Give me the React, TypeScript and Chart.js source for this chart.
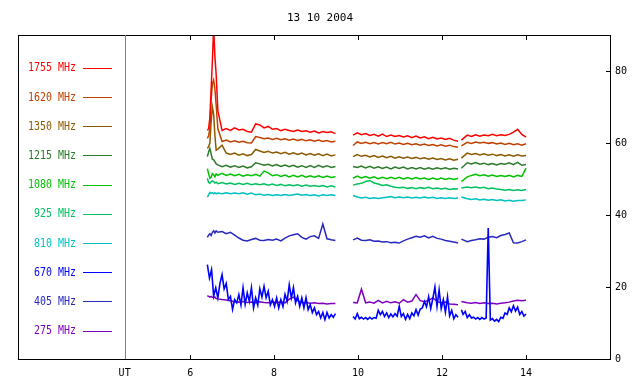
import { useEffect, useRef } from 'react';
import { Chart, registerables } from 'chart.js';

Chart.register(...registerables);

const TITLE = '13 10 2004';
const AXIS_LABEL = 'UT';
const UT_POS = 4.44;
const X_MIN = 1.9;
const X_MAX = 16;
const Y_MIN = 0;
const Y_MAX = 90;
const xTickValues = [6, 8, 10, 12, 14];
const yTickValues = [0, 20, 40, 60, 80];

const seriesNames = ['1755 MHz', '1620 MHz', '1350 MHz', '1215 MHz', '1080 MHz', '925 MHz', '810 MHz', '670 MHz', '405 MHz', '275 MHz'];
const seriesColors = ['#ff0000', '#c04000', '#8b5a00', '#2a7a2a', '#00c000', '#00c060', '#00c0c0', '#0000ff', '#2828c0', '#8000c0'];

// shared time grid (UT hours); gaps carry null values
const times = [
  6.41, 6.44, 6.47, 6.50, 6.53, 6.56, 6.59, 6.62, 6.66, 6.76, 6.86, 6.96, 7.06, 7.16, 7.26, 7.36, 7.46, 7.56, 7.66, 7.76,
  7.86, 7.96, 8.06, 8.16, 8.26, 8.36, 8.46, 8.56, 8.66, 8.76, 8.86, 8.96, 9.06, 9.16, 9.26, 9.36, 9.46,
  9.66,
  9.88, 9.98, 10.08, 10.18, 10.28, 10.38, 10.48, 10.58, 10.68, 10.78, 10.88, 10.98, 11.08, 11.18, 11.28, 11.38, 11.48,
  11.58, 11.68, 11.78, 11.88, 11.98, 12.08, 12.18, 12.28, 12.38,
  12.42,
  12.46, 12.6, 12.7, 12.8, 12.9, 13.0, 13.1, 13.2, 13.3, 13.4, 13.5, 13.6, 13.7, 13.8, 13.9, 14.0,
];

const f1755 = [
  63.5, 64, 67, 75, 83, 92, 84, 79, 69, 63.5, 64, 63.5, 64.2, 63.6, 63.8, 63.2, 63, 65.3, 65, 64.2, 64.6, 63.8, 64, 63.4, 63.8, 63.5, 63.2, 63.6, 63.2, 63.4, 63, 63.3, 62.8, 63.2, 62.9, 63.1, 62.6,
  null,
  62.2, 62.8, 62.3, 62.6, 62.1, 62.4, 61.9, 62.5, 61.8, 62.2, 61.8, 62.1, 61.7, 62, 61.5, 61.9, 61.4, 61.7, 61.2, 61.6, 61.1, 61.4, 61, 61.3, 60.8, 60.5,
  null,
  60.8, 62.2, 61.8, 62.3, 61.9, 62.2, 62, 62.4, 62, 62.3, 62.1, 62.4, 63, 63.8, 62.4, 61.6,
];
const f1620 = [
  61.3, 62, 64, 72, 76.5, 77.5, 75, 70.5, 64, 60.4, 60.8, 60.3, 60.6, 60.2, 60.5, 60.1, 60, 61.8, 61.5, 61.2, 61.4, 61, 61.3, 60.9, 61.2, 60.8, 61.1, 60.7, 61, 60.6, 60.9, 60.5, 60.8, 60.4, 60.7, 60.3, 60.5,
  null,
  59.3, 60.3, 59.9, 60.2, 59.8, 60.1, 59.7, 60.1, 59.8, 60.2, 59.7, 60, 59.6, 59.9, 59.5, 59.8, 59.4, 59.7, 59.3, 59.6, 59.2, 59.5, 59.1, 59.4, 59, 58.8,
  null,
  59.2, 60.2, 59.9, 60.3, 60, 60.2, 59.9, 60.1, 59.7, 60, 59.6, 59.9, 59.5, 59.8, 59.4, 59.8,
];
const f1350 = [
  58.5, 59, 60, 66, 70, 68, 62, 58, 58.3, 59.4, 57.2, 56.8, 57.2, 56.6, 57, 56.5, 56.8, 58.2, 57.8, 57.4, 57.7, 57.2, 57.5, 57, 57.4, 56.9, 57.3, 56.8, 57.2, 56.7, 57.1, 56.6, 57, 56.5, 56.9, 56.4, 56.7,
  null,
  56.2, 56.8, 56.3, 56.6, 56.1, 56.5, 56, 56.4, 55.9, 56.3, 55.8, 56.2, 55.8, 56.1, 55.7, 56, 55.6, 55.9, 55.5, 55.8, 55.4, 55.7, 55.3, 55.6, 55.2, 55.5,
  null,
  55.8, 57.2, 56.8, 57.1, 56.7, 57, 56.6, 56.9, 56.5, 56.8, 56.4, 56.7, 56.3, 56.7, 56.4, 56.5,
];
const f1215 = [
  56.2, 57.5, 58.5, 57, 55.5, 55.3, 54.8, 54.2, 53.9, 53.4, 53.8, 53.3, 53.7, 53.2, 53.6, 53.1, 53.4, 54.5, 54.2, 53.8, 54.1, 53.6, 54, 53.5, 53.9, 53.4, 53.8, 53.3, 53.7, 53.2, 53.7, 53.2, 53.8, 53.3, 53.7, 53.2, 53.5,
  null,
  53.5, 53.2, 53.6, 53.1, 53.5, 53, 53.4, 52.9, 53.3, 52.8, 53.3, 52.9, 53.3, 52.8, 53.2, 52.8, 53.2, 52.7, 53.1, 52.7, 53.1, 52.8, 53.1, 52.7, 53, 52.8,
  null,
  53, 54.5, 54.2, 54.6, 54.1, 54.4, 54, 54.3, 53.9, 54.3, 54.1, 54.5, 54, 54.6, 53.8, 54,
];
const f1080 = [
  52.9, 51.5, 50.2, 50.5, 51.5, 51.2, 50.6, 51.4, 51, 51.6, 51, 51.4, 50.9, 51.3, 50.8, 51.2, 50.9, 51.3, 50.8, 52.2, 51.7, 50.9, 51.2, 50.7, 51.1, 50.6, 51, 50.6, 51, 50.5, 50.9, 50.5, 50.9, 50.4, 50.8, 50.4, 50.6,
  null,
  50.2, 50.8, 50.3, 50.7, 50.2, 50.6, 50.1, 50.5, 50.1, 50.5, 50.1, 50.5, 50, 50.4, 50, 50.4, 50, 50.3, 49.9, 50.3, 49.9, 50.3, 49.9, 50.2, 49.9, 50.2,
  null,
  49.3, 50.6, 51, 51.3, 50.9, 51.2, 50.8, 51.1, 50.7, 51, 50.7, 51, 50.6, 51, 50.7, 53,
];
const f925 = [
  50.2, 49, 48.8, 49.2, 49.5, 49.3, 48.9, 49.1, 48.7, 49, 48.6, 48.9, 48.5, 48.8, 48.5, 48.8, 48.4, 48.7, 48.4, 48.7, 48.3, 48.6, 48.2, 48.5, 48.1, 48.4, 48.1, 48.4, 48, 48.3, 48, 48.2, 47.9, 48.2, 47.8, 48.1, 47.8,
  null,
  48.3, 48.6, 48.8, 49.3, 49.6, 48.9, 48.6, 48.2, 48.4, 48, 47.7, 47.6, 47.7, 47.4, 47.6, 47.3, 47.6, 47.4, 47.7, 47.3, 47.5, 47.2, 47.4, 47.1, 47.3, 47.2,
  null,
  47.5, 47.8, 47.6, 47.8, 47.5, 47.7, 47.3, 47.5, 47.2, 47.1, 46.9, 47.1, 46.8, 47, 46.8, 47.1,
];
const f810 = [
  45, 45.6, 46.3, 46, 46.2, 45.9, 46.2, 45.9, 46.1, 45.9, 46.2, 45.9, 46.1, 45.9, 46.2, 45.8, 46.1, 45.6, 45.8, 45.5, 45.7, 45.4, 45.6, 45.4, 45.7, 45.4, 45.6, 45.8, 45.5, 45.7, 45.4, 45.6, 45.3, 45.6, 45.4, 45.6, 45.4,
  null,
  45.4, 45, 44.7, 44.9, 44.6, 44.8, 44.6, 44.8, 44.9, 45.1, 44.8, 45, 44.8, 45, 44.7, 44.9, 44.7, 45, 44.7, 44.9, 44.6, 44.8, 44.6, 44.8, 44.6, 44.7,
  null,
  45, 44.5, 44.3, 44.5, 44.2, 44.4, 44.1, 44.3, 44, 44.2, 43.9, 44.1, 43.8, 44, 44, 44.2,
];
const f405 = [
  33.8, 34.4, 34.8, 34.3, 35.2, 35.6, 35, 35.6, 35.2, 35.4, 34.8, 35.2, 34.4, 33.6, 33, 32.8, 33.2, 33.5, 33, 32.9, 33.2, 33, 33.3, 32.8, 33.6, 34.2, 34.5, 34.8, 33.8, 33.3, 34, 34.2, 33.5, 37.5, 33.4, 33.1, 32.9,
  null,
  33.1, 33.6, 33, 32.9, 33.1, 32.7, 32.8, 32.5, 32.6, 32.3, 32.4, 32.2, 32.8, 33.3, 33.7, 34.1, 33.8, 34.2, 33.6, 34.1, 33.5, 33.3, 32.9, 32.7, 32.5, 32.2,
  null,
  33.3, 32.6, 32.9, 33.1, 33.4, 33.3, 33.8, 34, 33.7, 34.3, 34.6, 35, 32.3, 32.2, 32.6, 33.1,
];
const f275 = [
  17.6, 17.4, 17.2, 17.4, 17.1, 17, 17.2, 16.8, 16.7, 16.5, 16.4, 16.2, 15.9, 15.8, 16, 15.7, 15.8, 15.6, 15.9, 15.7, 15.6, 15.8, 15.6, 15.9, 15.6, 16.6, 17.2, 16.2, 15.6, 15.7, 15.5, 15.6, 15.4, 15.5, 15.3, 15.4, 15.4,
  null,
  15.7, 15.6, 19.4, 15.6, 15.8, 15.5, 16.3, 15.6, 16, 15.6, 15.9, 15.5, 16.5, 15.8, 16.1, 17.9, 16.2, 15.9, 16.3, 17, 16, 15.6, 15.8, 15.3, 15.2, 15.1,
  null,
  16, 15.6, 15.5, 15.7, 15.4, 15.6, 15.4, 15.5, 15.3, 15.5, 15.6, 15.8, 16.1, 16.3, 16.2, 16.3,
];

// 670 MHz is sampled on a finer grid
const times670 = [
  6.41, 6.46, 6.51, 6.56, 6.61, 6.66, 6.71, 6.76, 6.81, 6.86, 6.91, 6.96, 7.01, 7.06, 7.11, 7.16, 7.21, 7.26, 7.31, 7.36,
  7.41, 7.46, 7.51, 7.56, 7.61, 7.66, 7.71, 7.76, 7.81, 7.86, 7.91, 7.96, 8.01, 8.06, 8.11, 8.16, 8.21, 8.26, 8.31, 8.36,
  8.41, 8.46, 8.51, 8.56, 8.61, 8.66, 8.71, 8.76, 8.81, 8.86, 8.91, 8.96, 9.01, 9.06, 9.11, 9.16, 9.21, 9.26, 9.31, 9.36,
  9.41, 9.46,
  9.66,
  9.88, 9.93, 9.98, 10.03, 10.08, 10.13, 10.18, 10.23, 10.28, 10.33, 10.38, 10.43, 10.48, 10.53, 10.58, 10.63, 10.68,
  10.73, 10.78, 10.83, 10.88, 10.93, 10.98, 11.03, 11.08, 11.13, 11.18, 11.23, 11.28, 11.33, 11.38, 11.43, 11.48, 11.53,
  11.58, 11.63, 11.68, 11.73, 11.78, 11.83, 11.88, 11.93, 11.98, 12.03, 12.08, 12.13, 12.18, 12.23, 12.28, 12.33, 12.38,
  12.42,
  12.46, 12.5, 12.55, 12.6, 12.65, 12.7, 12.75, 12.8, 12.85, 12.9, 12.95, 13, 13.05, 13.1, 13.15, 13.2, 13.25, 13.3,
  13.35, 13.4, 13.45, 13.5, 13.55, 13.6, 13.65, 13.7, 13.75, 13.8, 13.85, 13.9, 13.95, 14,
];
const f670 = [
  26.2, 22.5, 24.8, 17.5, 19.8, 17, 21, 23.4, 19.5, 21, 16.5, 17.4, 13.8, 16.5, 15.6, 17.9, 15, 19.8, 15.2, 18.4,
  16, 19.8, 14.2, 17, 15, 19.5, 17.2, 20.2, 17, 18.8, 15, 16.5, 14.6, 17, 14.2, 16.5, 14.6, 18, 16, 20.6,
  17, 19.8, 15.6, 17.4, 14.6, 17, 14.2, 17, 13.7, 15.1, 12.9, 14.2, 12.3, 13.2, 11.4, 12.9, 10.9, 12.9, 11.4, 12.3,
  11.6, 12.6,
  null,
  11.8, 11.1, 12.6, 11.2, 11.6, 11.1, 11.5, 11, 11.6, 11.1, 11.5, 11.3, 13.5, 12.3, 13.2, 11.8, 12.8,
  11.5, 12.5, 11.7, 12.6, 11.9, 14.6, 11.8, 12.6, 11, 12.4, 11.2, 12.8, 12, 13.7, 12.2, 13.9, 14.2,
  16, 14.5, 17.3, 14, 16.8, 20, 14.6, 19.2, 14, 16.5, 13, 17.3, 12, 13.5, 11.2, 12.3, 11.6,
  null,
  13.7, 12.4, 13.2, 11.5, 12.3, 11.4, 11.6, 11.1, 11.5, 11, 11.5, 11.1, 11.4, 36.4, 10.8, 11.2, 10.5, 11,
  10.4, 11.6, 11.3, 12.8, 12.4, 14.2, 13.1, 14.8, 13.3, 14.4, 12.4, 13.2, 11.9, 12.5,
];

const seriesValues = [f1755, f1620, f1350, f1215, f1080, f925, f810, f670, f405, f275];
const seriesTimes = [times, times, times, times, times, times, times, times670, times, times];

const MONO = '"DejaVu Sans Mono", "Liberation Mono", monospace';

const framePlugin = {
  id: 'frame',
  afterDraw(chart: any) {
    const { ctx, chartArea } = chart;
    const { left, right, top, bottom } = chartArea;
    const xs = chart.scales.x;
    const ys = chart.scales.y;
    ctx.save();
    ctx.strokeStyle = '#000';
    ctx.lineWidth = 1;
    ctx.strokeRect(left + 0.5, top + 0.5, right - left, bottom - top);
    const ux = Math.round(xs.getPixelForValue(UT_POS)) + 0.5;
    ctx.strokeStyle = '#808080';
    ctx.beginPath();
    ctx.moveTo(ux, top);
    ctx.lineTo(ux, bottom);
    ctx.stroke();
    ctx.strokeStyle = '#000';
    ctx.beginPath();
    xTickValues.forEach((v) => {
      const px = Math.round(xs.getPixelForValue(v)) + 0.5;
      ctx.moveTo(px, bottom);
      ctx.lineTo(px, bottom - 4);
      ctx.moveTo(px, top);
      ctx.lineTo(px, top + 5);
    });
    yTickValues.forEach((v) => {
      const py = Math.round(ys.getPixelForValue(v)) + 0.5;
      ctx.moveTo(right, py);
      ctx.lineTo(right - 4, py);
    });
    ctx.stroke();
    seriesNames.forEach((name, i) => {
      const y = top + 32.7 + i * 29.2;
      const ly = Math.round(y) + 0.5;
      ctx.save();
      ctx.translate(left + 58, y + 0.5);
      ctx.scale(0.83, 1);
      ctx.font = `12px ${MONO}`;
      ctx.textAlign = 'right';
      ctx.textBaseline = 'middle';
      ctx.fillStyle = seriesColors[i];
      ctx.fillText(name, 0, 0);
      ctx.restore();
      ctx.strokeStyle = seriesColors[i];
      ctx.beginPath();
      ctx.moveTo(left + 65, ly);
      ctx.lineTo(left + 94, ly);
      ctx.stroke();
    });
    ctx.fillStyle = '#000';
    ctx.font = `11px ${MONO}`;
    ctx.textAlign = 'center';
    ctx.textBaseline = 'middle';
    ctx.fillText(TITLE, (left + right) / 2 + 6, 18);
    ctx.restore();
  },
};

export default function App() {
  const ref = useRef<HTMLCanvasElement | null>(null);
  useEffect(() => {
    if (!ref.current) return;
    const datasets = seriesValues.map((vals, i) => ({
      label: seriesNames[i],
      data: seriesTimes[i].map((t, k) => ({ x: t, y: vals[k] })),
      borderColor: seriesColors[i],
      backgroundColor: seriesColors[i],
      borderWidth: i === 7 ? 1.6 : 1.5,
      pointRadius: 0,
      tension: 0,
      spanGaps: false,
      fill: false,
    }));
    const chart = new Chart(ref.current, {
      type: 'line',
      data: { datasets },
      options: {
        animation: false,
        responsive: true,
        maintainAspectRatio: false,
        layout: { padding: { left: 18, top: 35, right: 0, bottom: 0 } },
        plugins: { legend: { display: false }, tooltip: { enabled: false }, title: { display: false } },
        scales: {
          x: {
            type: 'linear',
            min: X_MIN,
            max: X_MAX,
            position: 'bottom',
            afterBuildTicks: (s: any) => {
              s.ticks = [UT_POS, ...xTickValues].map((v) => ({ value: v }));
            },
            afterFit: (s: any) => {
              s.height = 25;
            },
            grid: { display: false, drawTicks: false },
            border: { display: false },
            ticks: {
              autoSkip: false,
              maxRotation: 0,
              padding: 8,
              color: '#000',
              font: { family: MONO, size: 10 },
              callback: (v: any) => (Math.abs(Number(v) - UT_POS) < 1e-6 ? AXIS_LABEL : String(v)),
            },
          },
          y: {
            type: 'linear',
            min: Y_MIN,
            max: Y_MAX,
            position: 'right',
            afterBuildTicks: (s: any) => {
              s.ticks = yTickValues.map((v) => ({ value: v }));
            },
            afterFit: (s: any) => {
              s.width = 30;
            },
            grid: { display: false, drawTicks: false },
            border: { display: false },
            ticks: {
              padding: 5,
              color: '#000',
              font: { family: MONO, size: 10 },
              callback: (v: any) => String(v),
            },
          },
        },
      },
      plugins: [framePlugin],
    });
    return () => chart.destroy();
  }, []);
  return (
    <div style={{ position: 'fixed', left: 0, top: 0, width: 640, height: 384, background: '#fff' }}>
      <canvas ref={ref} />
    </div>
  );
}
